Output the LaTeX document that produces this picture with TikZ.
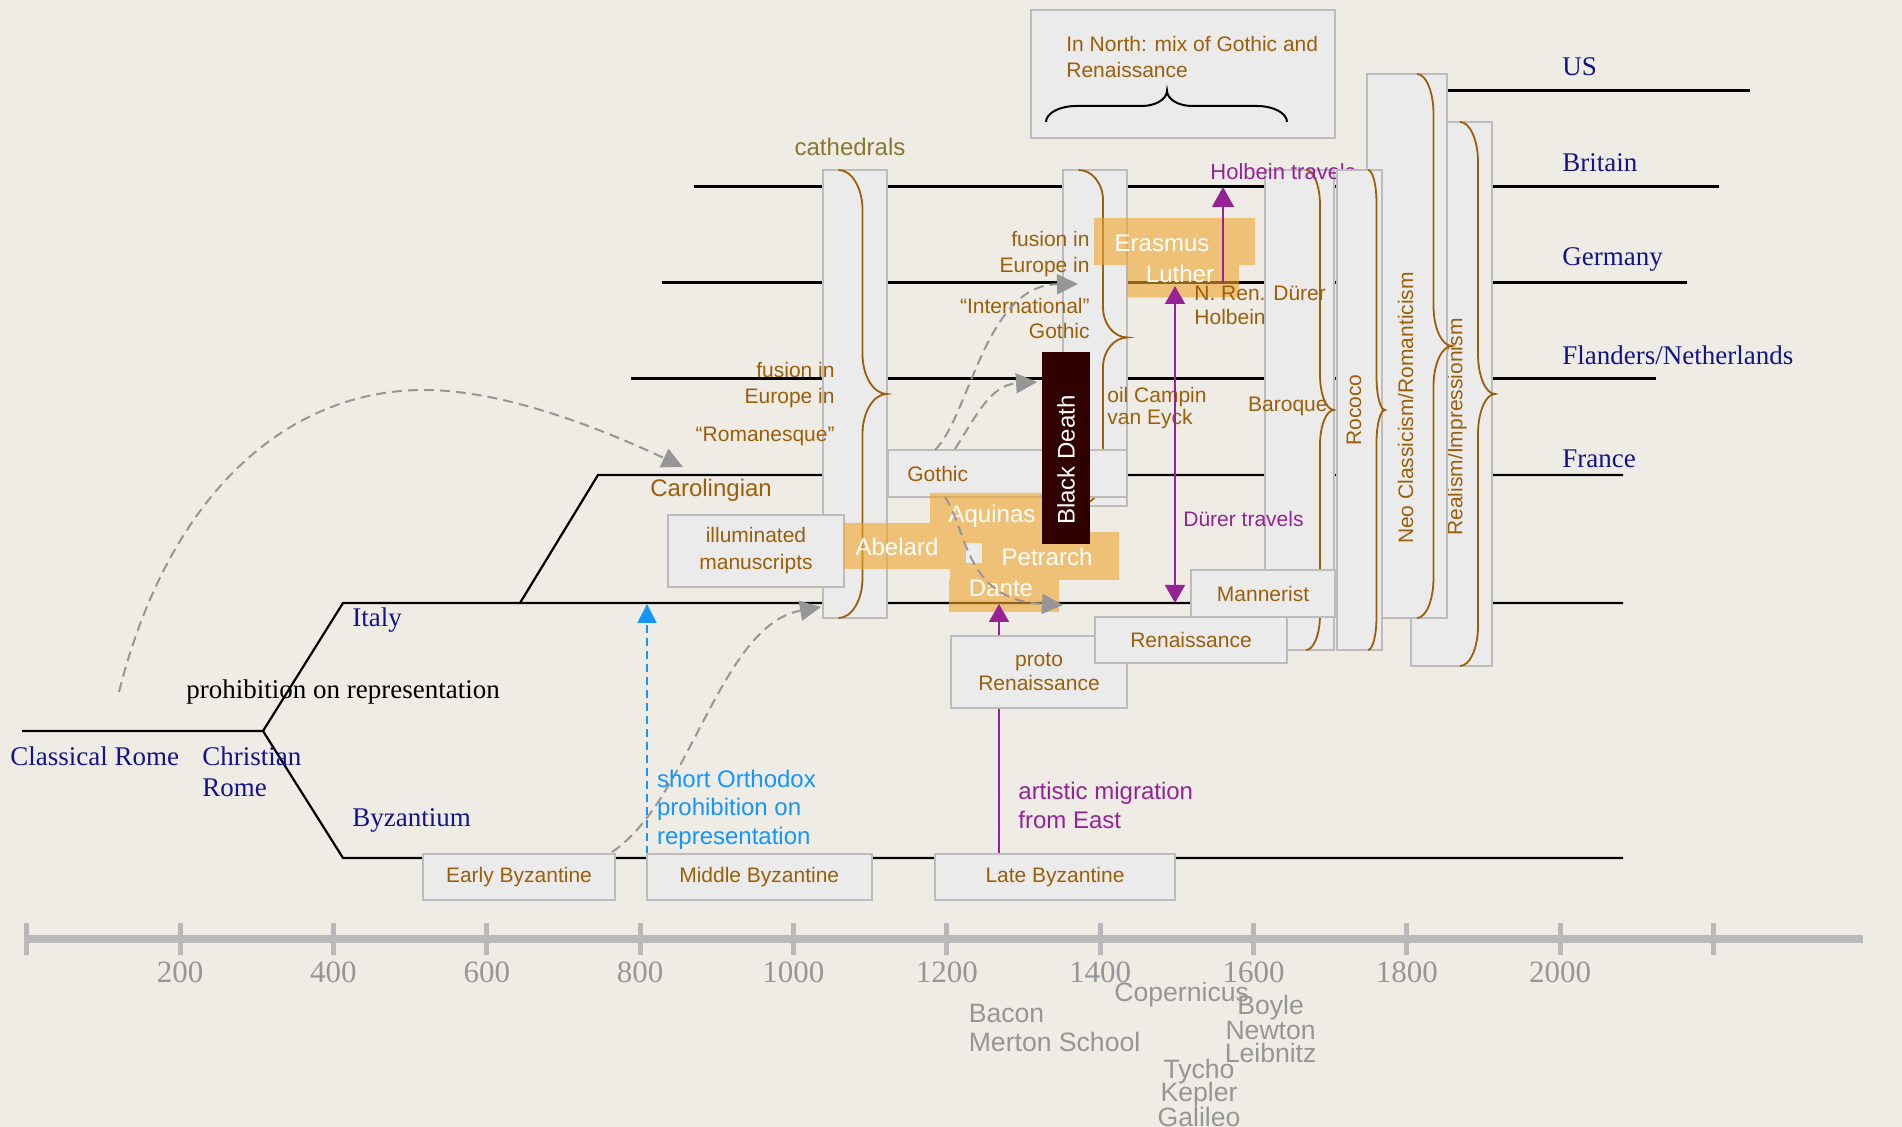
\documentclass[tikz,border=0pt]{standalone}
\usepackage{fontspec}
\setmainfont{Liberation Serif}
\setsansfont{Liberation Sans}
\usetikzlibrary{arrows.meta}
\definecolor{bg}{RGB}{239,236,229}
\definecolor{boxfill}{RGB}{235,235,235}
\definecolor{boxline}{RGB}{188,188,188}
\definecolor{brn}{RGB}{155,95,10}
\definecolor{olivec}{RGB}{135,120,50}
\definecolor{navy}{RGB}{20,20,135}
\definecolor{purp}{RGB}{150,35,150}
\definecolor{skyb}{RGB}{20,150,250}
\definecolor{dgray}{RGB}{150,150,150}
\definecolor{axgray}{RGB}{185,185,185}
\definecolor{sgray}{RGB}{150,150,150}
\definecolor{orng}{RGB}{240,165,45}
\definecolor{bdark}{RGB}{48,0,0}
\newcommand\gbox[6]{\node[gbox,minimum width={(#4-#2)*0.5pt},minimum height={(#5-#3)*0.5pt}] (#1) at (#2,#3) {#6};}
\newcommand\vbrace[6]{%
 \pgfmathsetmacro\bA{#1+0.55*(#2-#1)}%
 \pgfmathsetmacro\bM{(#4+#5)/2}%
 \pgfmathsetmacro\bB{#2+0.45*(#3-#2)}%
 \pgfmathsetmacro\tA{#4+0.45*#6}%
 \pgfmathsetmacro\tB{#4+#6}%
 \pgfmathsetmacro\mA{\bM-#6}%
 \pgfmathsetmacro\mB{\bM-0.45*#6}%
 \pgfmathsetmacro\mC{\bM+0.45*#6}%
 \pgfmathsetmacro\mD{\bM+#6}%
 \pgfmathsetmacro\uA{#5-#6}%
 \pgfmathsetmacro\uB{#5-0.45*#6}%
 \draw[brc] (#1,#4) .. controls (\bA,#4) and (#2,\tA) .. (#2,\tB) -- (#2,\mA) .. controls (#2,\mB) and (\bB,\bM) .. (#3,\bM) .. controls (\bB,\bM) and (#2,\mC) .. (#2,\mD) -- (#2,\uA) .. controls (#2,\uB) and (\bA,#5) .. (#1,#5);%
}
\begin{document}
\begin{tikzpicture}[x=0.5pt,y=-0.5pt,
  gbox/.style={draw=boxline,fill=boxfill,line width=1pt,inner sep=0pt,outer sep=0pt,anchor=north west,text=brn,font=\sffamily\fontsize{10.5}{13.5}\selectfont,align=center},
  rline/.style={line width=1.1pt,draw=black},
  brc/.style={draw=brn,line width=0.9pt},
  sans/.style={inner sep=0pt,font=\sffamily\fontsize{10.5}{13}\selectfont},
  sansL/.style={inner sep=0pt,font=\sffamily\fontsize{12}{14.2}\selectfont},
  serif/.style={inner sep=0pt,font=\fontsize{13.5}{15.5}\selectfont,text=navy},
  sci/.style={inner sep=0pt,font=\sffamily\fontsize{13.3}{14}\selectfont,text=sgray},
  yr/.style={inner sep=0pt,font=\fontsize{15.5}{16}\selectfont,text=sgray},
  gdash/.style={draw=dgray,line width=1pt,dash pattern=on 5pt off 3pt,-{Triangle[length=10.5pt,width=10pt]}},
  parr/.style={draw=purp,fill=purp,line width=0.9pt}
]
\useasboundingbox (0,0) rectangle (1902,1127);
\fill[bg] (0,0) rectangle (1902,1127);

% ---------- region lines ----------
\coordinate (cr0) at (22,731);
\coordinate (cr1) at (263,731);
\coordinate (it0) at (343,603);
\coordinate (it1) at (1623,603);
\coordinate (by0) at (343,858);
\coordinate (by1) at (1623,858);
\coordinate (ca0) at (520,603);
\coordinate (fr0) at (598,475);
\coordinate (fr1) at (1623,475);
\coordinate (fl0) at (631,378.5);
\coordinate (fl1) at (1656,378.5);
\coordinate (ge0) at (662,282.6);
\coordinate (ge1) at (1687,282.6);
\coordinate (br0) at (694,186.5);
\coordinate (br1) at (1719,186.5);
\coordinate (us0) at (1400,90.5);
\coordinate (us1) at (1750,90.5);
\draw[rline] (cr0) -- (cr1) -- (it0) -- (it1);
\draw[rline] (cr1) -- (by0) -- (by1);
\draw[rline] (ca0) -- (fr0) -- (fr1);
\draw[rline] (fl0) -- (fl1);
\draw[rline] (ge0) -- (ge1);
\draw[rline] (br0) -- (br1);
\draw[rline] (us0) -- (us1);

% ---------- big dashed arc ----------
\coordinate (arcS) at (119,692);
\coordinate (arcP) at (424,390);
\coordinate (arcE) at (683,467);
\draw[gdash] (arcS) .. controls (170,490) and (290,390) .. (arcP) .. controls (510,390) and (615,435) .. (arcE);

% ---------- Romanesque ----------
\gbox{rom}{823}{170}{887}{618}{}
\vbrace{838.6}{862.5}{887}{170}{618}{40}
\gbox{ms}{668}{515}{844}{587}{illuminated\\manuscripts}

% ---------- International Gothic ----------
\gbox{ig}{1063}{170}{1127}{506}{}
\vbrace{1078.6}{1103}{1127.5}{170}{505}{30}
\gbox{goth}{888}{450}{1127}{497}{}
\node[sans,text=brn,anchor=west] (gothT) at (907,474) {Gothic};

% ---------- later styles ----------
\gbox{real}{1411}{122}{1491.5}{666}{}
\vbrace{1460}{1478}{1495}{122}{666}{40}
\node[sans,text=brn,rotate=90] (realT) at (1457,427) {Realism/Impressionism};
\gbox{neo}{1367}{74}{1447}{618}{}
\vbrace{1417}{1433.5}{1452}{74}{618}{40}
\node[sans,text=brn,rotate=90] (neoT) at (1405.6,408) {Neo Classicism/Romanticism};
\gbox{bar}{1265}{170}{1334}{650}{}
\vbrace{1306}{1320}{1334}{170}{650}{35}
\node[sans,text=purp,anchor=west,font=\sffamily\fontsize{11}{13}\selectfont] (holbT) at (1210,172) {Holbein travels};
\gbox{roc}{1337}{170}{1382}{650}{}
\vbrace{1368}{1376.5}{1385}{170}{650}{33}
\node[sans,text=brn,rotate=90] (rocT) at (1354,410) {Rococo};

% ---------- In North ----------
\gbox{north}{1031}{10}{1335}{138}{}
\node[sans,text=brn,anchor=west,align=left] (northT) at (1066,57.5) {In North: mix of Gothic and\\Renaissance};
\draw[black,line width=1pt] (1046,122) .. controls (1046,113.2) and (1059.5,106) .. (1076,106) -- (1142,106) .. controls (1155.75,106) and (1167,99.07) .. (1167,90.6) .. controls (1167,99.07) and (1178.25,106) .. (1192,106) -- (1257,106) .. controls (1273.5,106) and (1287,113.2) .. (1287,122);

% ---------- orange blocks ----------
\fill[orng,fill opacity=0.6] (844,523) rectangle (950,569) (930,493) rectangle (1042,532) (950,523) rectangle (982,580) (982,532) rectangle (1119,580) (949,580) rectangle (1059,612);
\fill[boxfill] (966,543) rectangle (982,563);
\fill[orng,fill opacity=0.6] (1094,218) rectangle (1255,265) (1127,265) rectangle (1239,297.5);
\node[sansL,text=white] (abel) at (897,547) {Abelard};
\node[sansL,text=white] (aqui) at (992,516) {Aquinas};
\node[sansL,text=white] (petr) at (1047,557) {Petrarch};
\node[sansL,text=white] (dant) at (1001,588) {Dante};
\node[sansL,text=white] (eras) at (1162,243) {Erasmus};
\node[sansL,text=white] (luth) at (1180,274) {Luther};

% ---------- Black Death ----------
\node[fill=bdark,inner sep=0pt,outer sep=0pt,minimum width=23.8pt,minimum height=96pt,anchor=north west] (bd) at (1042,352) {};
\node[sansL,text=white,rotate=90] (bdT) at (1066,460) {Black Death};

% ---------- texts ----------
\node[sansL,text=olivec] (cath) at (850,147) {cathedrals};
\node[sans,text=brn,anchor=east,align=right] (fus1) at (835,385) {fusion in\\Europe in};
\node[sans,text=brn,anchor=east] (romT) at (835,436) {“Romanesque”};
\node[sansL,text=brn,anchor=west] (carol) at (650,490) {Carolingian};
\node[sans,text=brn,anchor=east,align=right] (fus2) at (1090,254) {fusion in\\Europe in};
\node[sans,text=brn,anchor=east,align=right] (intg) at (1090,318.5) {“International”\\Gothic};
\node[sans,text=brn,anchor=west,align=left,font=\sffamily\fontsize{10.5}{11.3}\selectfont] (oil) at (1107,408) {oil Campin\\van Eyck};
\node[sans,text=brn,anchor=west,align=left,font=\sffamily\fontsize{10.5}{12}\selectfont] (nren) at (1194,305) {N. Ren. Dürer\\Holbein};
\node[sans,text=brn,anchor=east] (baroT) at (1328,406) {Baroque};
\node[sans,text=purp,anchor=west] (durT) at (1183,519) {Dürer travels};

% ---------- gray dashed arrows ----------
\coordinate (gbS) at (935,450);
\coordinate (gbE) at (1078,284);
\draw[gdash] (gbS) .. controls (970,415) and (985,285) .. (gbE);
\coordinate (gcS) at (955,449);
\coordinate (gcE) at (1037,382);
\draw[gdash] (gcS) .. controls (975,418) and (990,385) .. (gcE);
\coordinate (gdS) at (945,497);
\coordinate (gdE) at (1063,605);
\draw[gdash] (gdS) .. controls (968,532) and (965,600) .. (gdE);
\coordinate (gaS) at (612,852);
\coordinate (gaE) at (821,607);
\draw[gdash] (gaS) .. controls (690,800) and (720,625) .. (gaE);

% ---------- purple and blue arrows ----------
\coordinate (holbS) at (1223,282.6);
\coordinate (holbE) at (1223,187);
\draw[parr,line width=0.8pt,-{Triangle[length=10pt,width=11pt]}] (holbS) -- (holbE);
\coordinate (durS) at (1175,286);
\coordinate (durE) at (1175,603);
\draw[parr,{Triangle[length=9pt,width=10pt]}-{Triangle[length=9pt,width=10pt]}] (durS) -- (durE);
\coordinate (migS) at (999,854);
\coordinate (migE) at (999,604);
\draw[parr,-{Triangle[length=9pt,width=10pt]}] (migS) -- (migE);
\node[sansL,text=purp,anchor=west,align=left] (migT) at (1018,805.5) {artistic migration\\from East};
\coordinate (blS) at (647,854);
\coordinate (blE) at (647,604);
\draw[skyb,line width=1pt,dash pattern=on 4pt off 2.5pt,-{Triangle[length=9.5pt,width=9.5pt]}] (blS) -- (blE);
\node[sansL,text=skyb,anchor=west,align=left] (orthT) at (656.7,809.5) {short Orthodox\\prohibition on\\representation};

% ---------- small boxes ----------
\gbox{man}{1191}{570.5}{1335}{617}{Mannerist}
\node[gbox,font=\sffamily\fontsize{10.5}{12}\selectfont,minimum width=88pt,minimum height=36pt] (pren) at (951,636) {proto\\Renaissance};
\gbox{ren}{1095}{617}{1287}{663}{Renaissance}
\gbox{eb}{423}{854}{615}{900}{Early Byzantine}
\gbox{mb}{647}{854}{871.5}{900}{Middle Byzantine}
\gbox{lb}{935}{854}{1175}{900}{Late Byzantine}

% ---------- time axis ----------
\coordinate (ax0) at (24,939);
\coordinate (ax1) at (1863,939);
\draw[axgray,line width=4pt] (ax0) -- (ax1);
\foreach \i in {0,...,11} {\draw[axgray,line width=2.5pt] (26.7+153.35*\i,923) -- (26.7+153.35*\i,955);}
\foreach \i/\yv in {1/200,2/400,3/600,4/800,5/1000,6/1200,7/1400,8/1600,9/1800,10/2000}
  {\node[yr] (yr\i) at (26.7+153.35*\i,972.7) {\yv};}

% ---------- science ----------
\node[sci,anchor=west] (bacon) at (968.4,1013) {Bacon};
\node[sci,anchor=west] (merton) at (968.4,1041.7) {Merton School};
\node[sci,anchor=west] (cop) at (1114,995) {Copernicus};
\node[sci] (boyle) at (1270.6,1008) {Boyle};
\node[sci] (newton) at (1270.6,1030) {Newton};
\node[sci] (leib) at (1270.6,1052.7) {Leibnitz};
\node[sci] (tycho) at (1199,1071.7) {Tycho};
\node[sci] (kepler) at (1199,1094.3) {Kepler};
\node[sci] (galileo) at (1199,1116.7) {Galileo};

% ---------- region labels ----------
\node[serif,anchor=west] (usL) at (1562,67) {US};
\node[serif,anchor=west] (brL) at (1562,163) {Britain};
\node[serif,anchor=west] (geL) at (1562,259) {Germany};
\node[serif,anchor=west] (flL) at (1562,355) {Flanders/Netherlands};
\node[serif,anchor=west] (frL) at (1562,459) {France};
\node[serif,anchor=west] (itL) at (352,620) {Italy};
\node[serif,anchor=west] (byL) at (352,820) {Byzantium};
\node[serif,anchor=west] (clL) at (10,756) {Classical Rome};
\node[serif,anchor=west,align=left] (chL) at (202,771.5) {Christian\\Rome};
\node[serif,anchor=west,text=black] (proh) at (186,692) {prohibition on representation};
\end{tikzpicture}
\end{document}
